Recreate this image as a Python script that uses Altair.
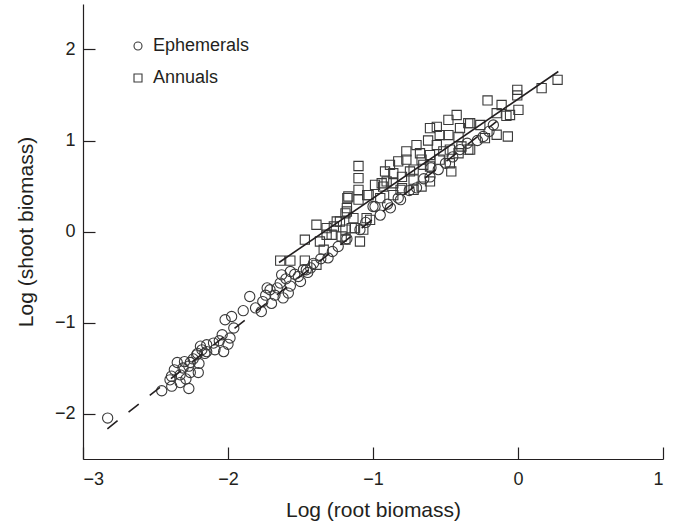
import altair as alt
import pandas as pd

# Ephemerals (circles)
eph_x = [-2.83, -2.457, -2.388, -2.33, -2.27, -2.39, -2.33, -2.35, -2.27, -2.26,
         -2.26, -2.205, -2.216, -2.16, -2.19, -2.147, -2.10, -2.09, -2.30, -2.37,
         -2.31, -2.24, -2.20, -2.29, -2.40, -2.18, -2.21, -2.147, -2.03, -2.04,
         -1.986, -1.96, -2.02, -1.975, -1.895, -1.85, -1.81, -1.76, -1.77, -1.70,
         -1.71, -1.676, -1.64, -1.62, -1.584, -1.57, -1.63, -1.57, -1.515, -1.48,
         -1.73, -2.06, -2.00, -1.74, -1.66, -1.60, -1.54, -1.45, -1.50, -1.09,
         -1.00, -1.24, -1.31, -1.41, -1.46, -1.36, -1.28, -1.43, -0.986, -0.826,
         -0.81, -0.607, -0.70, -0.90, -0.75, -0.55, -0.60, -0.65, -0.50, -0.45,
         -0.40, -0.35, -0.24, -0.17, -0.28, -0.20, -1.18, -1.05, -0.95, -0.88]
eph_y = [-2.05, -1.75, -1.70, -1.66, -1.725, -1.59, -1.575, -1.44, -1.48, -1.55,
         -1.44, -1.55, -1.355, -1.34, -1.26, -1.245, -1.226, -1.30, -1.43, -1.52,
         -1.50, -1.40, -1.45, -1.62, -1.63, -1.30, -1.34, -1.32, -1.32, -1.135,
         -1.17, -1.06, -0.97, -0.934, -0.87, -0.714, -0.84, -0.77, -0.88, -0.79,
         -0.64, -0.70, -0.567, -0.73, -0.677, -0.60, -0.476, -0.44, -0.494, -0.42,
         -0.62, -1.20, -1.24, -0.70, -0.62, -0.52, -0.47, -0.45, -0.55, 0.02,
         0.275, -0.165, -0.29, -0.35, -0.42, -0.30, -0.22, -0.40, 0.275, 0.367,
         0.35, 0.60, 0.48, 0.30, 0.45, 0.68, 0.70, 0.58, 0.75, 0.82,
         0.90, 0.97, 1.044, 1.17, 1.00, 1.10, -0.08, 0.10, 0.18, 0.26]

# Annuals (squares)
ann_x = [-1.64, -1.57, -1.47, -1.39, -1.47, -1.366, -1.34, -1.39, -1.32, -1.285,
         -1.25, -1.216, -1.19, -1.18, -1.17, -1.10, -1.10, -1.19, -1.135, -1.09,
         -1.124, -1.044, -1.03, -0.986, -0.93, -0.95, -0.906, -1.10, -1.10, -0.917,
         -0.883, -0.826, -0.77, -0.70, -0.676, -0.653, -0.86, -0.80, -0.745, -0.81,
         -0.665, -1.02, -1.067, -1.177, -1.18, -1.228, -1.27, -1.32, -1.147, -1.19,
         -0.423, -0.48, -0.56, -0.40, -0.343, -0.607, -0.62, -0.56, -0.54, -0.48,
         -0.41, -0.77, -0.607, -0.515, -0.47, -0.39, -0.33, -0.665, -0.54, -0.47,
         -0.41, -0.86, -0.72, -0.607, -0.46, -0.94, -0.72, -0.607, -1.04, -0.86,
         -0.80, -0.72, 0.273, 0.163, -0.005, -0.005, 0.003, -0.055, -0.21, -0.113,
         -0.08, -0.147, -0.147, -0.07, -0.33, -0.26, -0.228, -0.343]
ann_y = [-0.32, -0.32, -0.32, -0.366, -0.09, -0.11, -0.20, 0.074, 0.037, -0.036,
         0.11, -0.055, 0.02, 0.257, 0.385, 0.35, 0.587, 0.20, 0.147, -0.11,
         0.037, 0.147, 0.40, 0.513, 0.494, 0.367, 0.55, 0.72, 0.458, 0.66,
         0.733, 0.77, 0.79, 0.95, 0.86, 0.733, 0.53, 0.60, 0.66, 0.458,
         0.494, 0.128, 0.02, 0.367, 0.22, 0.11, 0.055, -0.036, 0.037, -0.09,
         1.28, 1.227, 1.15, 1.136, 1.19, 1.136, 1.00, 0.95, 1.06, 1.06,
         1.04, 0.88, 0.84, 0.88, 0.90, 0.934, 0.90, 0.79, 0.79, 0.75,
         0.86, 0.64, 0.68, 0.714, 0.66, 0.53, 0.57, 0.55, 0.40, 0.40,
         0.476, 0.458, 1.667, 1.576, 1.557, 1.495, 1.337, 1.28, 1.44, 1.39,
         1.27, 1.30, 1.063, 1.044, 1.19, 1.17, 1.026, 0.90]

# Fitted lines (endpoints)
fit_group = ["Annuals", "Annuals", "Ephemerals", "Ephemerals"]
fit_x = [-1.648, 0.278, -2.832, -0.147]
fit_y = [-0.341, 1.758, -2.168, 1.209]

x_ticks = [-3, -2, -1, 0, 1]
y_ticks = [-2, -1, 0, 1, 2]
groups = ["Ephemerals", "Annuals"]

eph = pd.DataFrame({"x": eph_x, "y": eph_y, "group": "Ephemerals"})
ann = pd.DataFrame({"x": ann_x, "y": ann_y, "group": "Annuals"})
fits = pd.DataFrame({"x": fit_x, "y": fit_y, "group": fit_group})

INK = "#231f20"
PT = "#3a3a3a"
FONT = "Liberation Sans"
W, H = 580, 455

xs = alt.Scale(domain=[-3, 1], nice=False, zero=False)
ys = alt.Scale(domain=[-2.5, 2.5], nice=False, zero=False)

# inward ticks drawn as short grid dashes starting at the axis line
xaxis = alt.Axis(values=x_ticks, format="d", title="Log (root biomass)",
                 grid=True, gridDash=[0, H - 12, 12, 3000], gridColor=INK, gridWidth=1.2,
                 gridOpacity=1, ticks=False, tickSize=0, labelPadding=11,
                 titlePadding=11, domainColor=INK, domainWidth=1.2)
yaxis = alt.Axis(values=y_ticks, format="d", title="Log (shoot biomass)",
                 grid=True, gridDash=[12, 3000], gridColor=INK, gridWidth=1.2,
                 gridOpacity=1, ticks=False, tickSize=0, labelPadding=8,
                 titlePadding=18, domainColor=INK, domainWidth=1.2)

shape_scale = alt.Scale(domain=groups, range=["circle", "square"])
legend = alt.Legend(title=None, orient="none", legendX=46, legendY=33,
                    labelFontSize=18, labelFont=FONT, labelColor=INK,
                    symbolSize=64, symbolStrokeWidth=1.1,
                    symbolStrokeColor=PT, symbolFillColor="transparent",
                    labelOffset=6, rowPadding=14, padding=0)

circles = alt.Chart(eph).mark_point(filled=False, strokeWidth=1.1, opacity=1, size=105).encode(
    x=alt.X("x:Q", scale=xs, axis=xaxis),
    y=alt.Y("y:Q", scale=ys, axis=yaxis),
    shape=alt.Shape("group:N", scale=shape_scale, legend=legend),
    color=alt.value(PT),
)
squares = alt.Chart(ann).mark_point(filled=False, strokeWidth=1.1, opacity=1, size=85).encode(
    x=alt.X("x:Q", scale=xs),
    y=alt.Y("y:Q", scale=ys),
    shape=alt.Shape("group:N", scale=shape_scale, legend=legend),
    color=alt.value(PT),
)

solid = alt.Chart(fits).transform_filter(alt.datum.group == "Annuals").mark_line(
    color=INK, strokeWidth=1.6).encode(x=alt.X("x:Q", scale=xs), y=alt.Y("y:Q", scale=ys))
dashed = alt.Chart(fits).transform_filter(alt.datum.group == "Ephemerals").mark_line(
    color=INK, strokeWidth=1.6, strokeDash=[13, 14]).encode(
    x=alt.X("x:Q", scale=xs), y=alt.Y("y:Q", scale=ys))

chart = alt.layer(circles, squares, solid, dashed).properties(
    width=W, height=H,
    autosize=alt.AutoSizeParams(type="none"),
    padding={"left": 83, "top": 4, "right": 14, "bottom": 66},
    background="white",
).configure_view(stroke=None).configure_axis(
    labelFont=FONT, titleFont=FONT, labelFontSize=18, titleFontSize=21,
    titleFontWeight="normal", labelColor=INK, titleColor=INK,
)

chart.save("out.html", embed_options={"renderer": "svg", "actions": False})
